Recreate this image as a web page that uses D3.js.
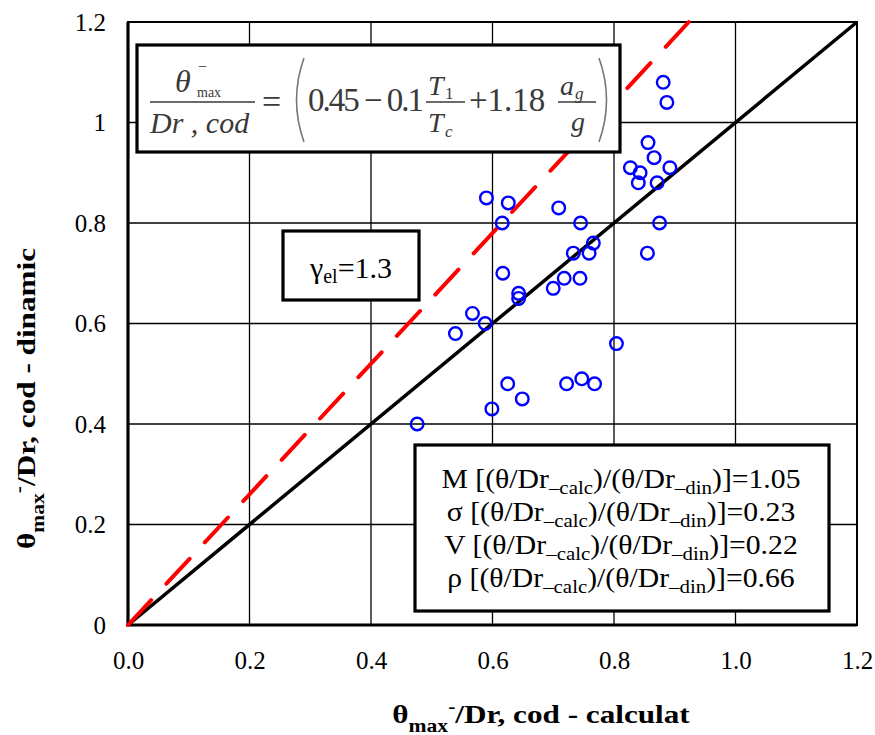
<!DOCTYPE html>
<html>
<head>
<meta charset="utf-8">
<script src="https://cdn.jsdelivr.net/npm/d3@7"></script>
<style>
  body { margin: 0; background: #fff; }
  svg { display: block; }
  text { font-family: "Liberation Serif", "Times New Roman", serif; }
</style>
</head>
<body>
<svg id="chart" width="875" height="735"></svg>
<script>
// theta/Dr,cod calculated (x) vs dynamic (y)
const calcValues = [0.881, 0.887, 0.856, 0.866, 0.827, 0.843, 0.892, 0.840, 0.871,
  0.590, 0.626, 0.616, 0.709, 0.745, 0.875, 0.766, 0.733, 0.759, 0.855,
  0.617, 0.718, 0.744, 0.700, 0.643, 0.643, 0.567, 0.588, 0.539, 0.804,
  0.625, 0.722, 0.747, 0.768, 0.649, 0.599, 0.476];
const dinValues = [1.08, 1.04, 0.96, 0.93, 0.91, 0.90, 0.91, 0.88, 0.88,
  0.85, 0.84, 0.80, 0.83, 0.80, 0.80, 0.76, 0.74, 0.74, 0.74,
  0.70, 0.69, 0.69, 0.67, 0.66, 0.65, 0.62, 0.60, 0.58, 0.56,
  0.48, 0.48, 0.49, 0.48, 0.45, 0.43, 0.40];

const tickValues = [0, 0.2, 0.4, 0.6, 0.8, 1.0, 1.2];
const xTickLabels = ["0.0", "0.2", "0.4", "0.6", "0.8", "1.0", "1.2"];
const yTickLabels = ["0", "0.2", "0.4", "0.6", "0.8", "1", "1.2"];

// y = x  and  y = gamma_el * x
const gammaEl = 1.3;
const equalLine = [[0, 0], [1.2, 1.2]];
const gammaLine = [[0, 0], [1.2 / gammaEl, 1.2]];

const statLines = [
  { k: "M", v: "1.05" },
  { k: "σ", v: "0.23" },
  { k: "V", v: "0.22" },
  { k: "ρ", v: "0.66" }
];

const svg = d3.select("#chart");
const x = d3.scaleLinear().domain([0, 1.2]).range([128, 857]);
const y = d3.scaleLinear().domain([0, 1.2]).range([625, 22]);

// grid
svg.append("g").selectAll("line").data(tickValues.slice(1, -1)).enter().append("line")
  .attr("x1", d => x(d)).attr("x2", d => x(d))
  .attr("y1", y(0)).attr("y2", y(1.2))
  .attr("stroke", "#000").attr("stroke-width", 1.3);
svg.append("g").selectAll("line").data(tickValues.slice(1, -1)).enter().append("line")
  .attr("y1", d => y(d)).attr("y2", d => y(d))
  .attr("x1", x(0)).attr("x2", x(1.2))
  .attr("stroke", "#000").attr("stroke-width", 1.3);

// frame
svg.append("rect")
  .attr("x", x(0)).attr("y", y(1.2))
  .attr("width", x(1.2) - x(0)).attr("height", y(0) - y(1.2))
  .attr("fill", "none").attr("stroke", "#000").attr("stroke-width", 2);
svg.append("path")
  .attr("d", `M${x(0)},${y(1.2)}V${y(0)}H${x(1.2)}`)
  .attr("fill", "none").attr("stroke", "#000").attr("stroke-width", 3.2);

// axes labels
const xAxis = d3.axisBottom(x).tickValues(tickValues)
  .tickFormat((d, i) => xTickLabels[i]).tickSize(0).tickPadding(26);
const gx = svg.append("g").attr("transform", `translate(0,${y(0)})`).call(xAxis);
const yAxis = d3.axisLeft(y).tickValues(tickValues)
  .tickFormat((d, i) => yTickLabels[i]).tickSize(0).tickPadding(22);
const gy = svg.append("g").attr("transform", `translate(${x(0)},0)`).call(yAxis);
[gx, gy].forEach(g => {
  g.select(".domain").remove();
  g.selectAll("text").attr("font-size", 25).attr("fill", "#000");
});

// reference lines
const line = d3.line().x(d => x(d[0])).y(d => y(d[1]));
svg.append("path").datum(equalLine).attr("d", line)
  .attr("stroke", "#000").attr("stroke-width", 3.5).attr("fill", "none");
svg.append("path").datum(gammaLine).attr("d", line)
  .attr("stroke", "#ff0000").attr("stroke-width", 4).attr("fill", "none")
  .attr("stroke-linecap", "round")
  .attr("stroke-dasharray", "34 22.4");

// points
svg.append("g").selectAll("circle").data(calcValues).enter().append("circle")
  .attr("cx", d => x(d))
  .attr("cy", (d, i) => y(dinValues[i]))
  .attr("r", 6.3)
  .attr("fill", "none").attr("stroke", "#0000ff").attr("stroke-width", 2.4);

// formula box
const eq = svg.append("g");
eq.append("rect").attr("x", 137).attr("y", 45).attr("width", 483).attr("height", 107)
  .attr("fill", "#fff").attr("stroke", "#000").attr("stroke-width", 3.2);
const ink = "#3a3a3a";
function t(g, str, px, py, size, italic) {
  return g.append("text").attr("x", px).attr("y", py).attr("font-size", size)
    .attr("font-style", italic ? "italic" : "normal").attr("fill", ink).text(str);
}
t(eq, "θ", 175, 92, 32, true);
t(eq, "−", 198, 72, 16, false);
t(eq, "max", 197, 97, 14, false);
eq.append("line").attr("x1", 150).attr("x2", 255).attr("y1", 102).attr("y2", 102)
  .attr("stroke", ink).attr("stroke-width", 1.3);
t(eq, "Dr , cod", 150, 133, 30, true);
t(eq, "=", 262, 113, 34, false);
eq.append("path").attr("d", "M304,58 Q289,100 304,142").attr("fill", "none")
  .attr("stroke", "#777").attr("stroke-width", 1.6);
t(eq, "0.45 − 0.1", 308, 111, 33, false)
  .attr("textLength", 116).attr("lengthAdjust", "spacing");
t(eq, "T", 428, 95, 28, true);
t(eq, "1", 445, 99, 17, false);
eq.append("line").attr("x1", 426).attr("x2", 465).attr("y1", 102).attr("y2", 102)
  .attr("stroke", ink).attr("stroke-width", 1.3);
t(eq, "T", 428, 132, 28, true);
t(eq, "c", 445, 137, 17, true);
t(eq, "+1.18", 469, 111, 33, false);
t(eq, "a", 560, 95, 28, true);
t(eq, "g", 575, 99, 17, true);
eq.append("line").attr("x1", 558).attr("x2", 596).attr("y1", 102).attr("y2", 102)
  .attr("stroke", ink).attr("stroke-width", 1.3);
t(eq, "g", 571, 131, 28, true);
eq.append("path").attr("d", "M599,58 Q614,100 599,142").attr("fill", "none")
  .attr("stroke", "#777").attr("stroke-width", 1.6);

// gamma box
svg.append("rect").attr("x", 283).attr("y", 231).attr("width", 136).attr("height", 69)
  .attr("fill", "#fff").attr("stroke", "#000").attr("stroke-width", 3.2);
const gt = svg.append("text").attr("x", 351).attr("y", 278).attr("text-anchor", "middle")
  .attr("font-size", 30).attr("fill", "#000");
gt.append("tspan").text("γ");
gt.append("tspan").attr("font-size", 20).attr("dy", 5).text("el");
gt.append("tspan").attr("dy", -5).text("=" + gammaEl);

// stats box
svg.append("rect").attr("x", 415).attr("y", 445).attr("width", 414).attr("height", 166)
  .attr("fill", "#fff").attr("stroke", "#000").attr("stroke-width", 3.2);
statLines.forEach((s, i) => {
  const tx = svg.append("g").attr("transform", `translate(621,${488 + i * 33}) scale(1.1,1)`)
    .append("text").attr("text-anchor", "middle").attr("font-size", 27).attr("fill", "#000");
  tx.append("tspan").text(`${s.k} [(θ/Dr`);
  tx.append("tspan").attr("font-size", 19).attr("dy", 6).text("–calc");
  tx.append("tspan").attr("dy", -6).text(")/(θ/Dr");
  tx.append("tspan").attr("font-size", 19).attr("dy", 6).text("–din");
  tx.append("tspan").attr("dy", -6).text(`)]=${s.v}`);
});

// axis titles
function axisTitle(g, rest, anchor) {
  const tx = g.append("text").attr("text-anchor", anchor).attr("font-size", 26)
    .attr("font-weight", "bold").attr("fill", "#000");
  tx.append("tspan").text("θ");
  tx.append("tspan").attr("font-size", 18).attr("dy", 9).text("max");
  tx.append("tspan").attr("font-size", 18).attr("dy", -19).text("-");
  tx.append("tspan").attr("dy", 10).text(rest);
  return tx;
}
axisTitle(svg.append("g").attr("transform", "translate(541,723) scale(1.2,1)"),
  "/Dr, cod - calculat", "middle");
axisTitle(svg.append("g").attr("transform", "translate(35,248) rotate(-90) scale(1.2,1)"),
  "/Dr, cod - dinamic", "end");
</script>
</body>
</html>
